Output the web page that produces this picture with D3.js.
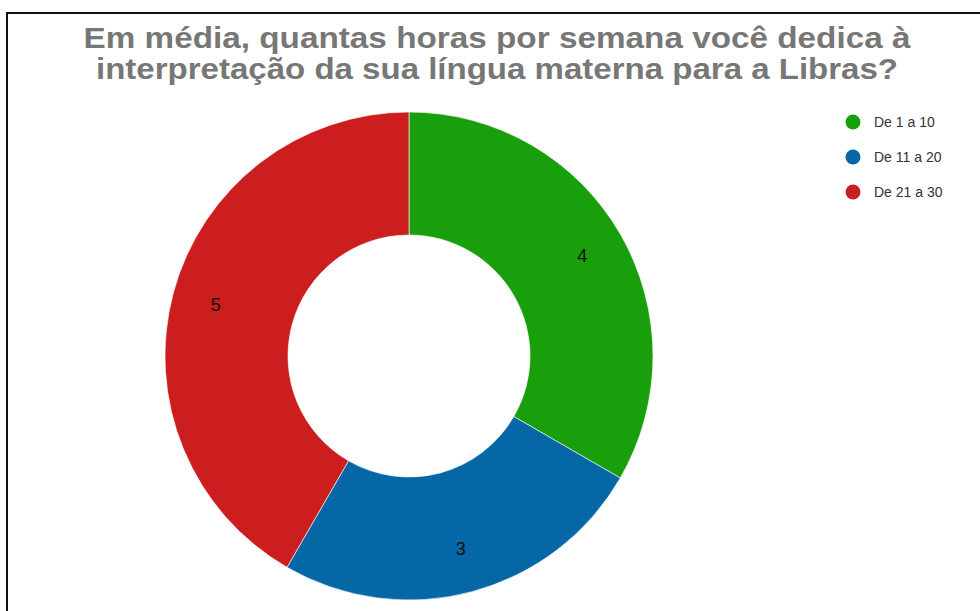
<!DOCTYPE html>
<html>
<head>
<meta charset="utf-8">
<script src="https://cdn.jsdelivr.net/npm/d3@7"></script>
<style>
  html, body { margin: 0; padding: 0; background: #fff; }
  svg { display: block; }
</style>
</head>
<body>
<svg id="chart" width="980" height="611"></svg>
<script>
// Survey answers: weekly hours spent interpreting into Libras
const categories = ["De 1 a 10", "De 11 a 20", "De 21 a 30"];
const counts = [4, 3, 5];
const colors = ["#1a9f0c", "#0567a6", "#cc1e1e"];
const titleLines = [
  "Em média, quantas horas por semana você dedica à",
  "interpretação da sua língua materna para a Libras?"
];
const titleWidths = [827, 802];

const svg = d3.select("#chart");
const W = 980, H = 611;

svg.append("rect").attr("width", W).attr("height", H).attr("fill", "#fff");

// frame (top and left edges)
svg.append("line").attr("x1", 6).attr("x2", W).attr("y1", 13).attr("y2", 13)
  .attr("stroke", "#111").attr("stroke-width", 2);
svg.append("line").attr("x1", 7).attr("x2", 7).attr("y1", 12).attr("y2", H)
  .attr("stroke", "#111").attr("stroke-width", 2);

// title
const title = svg.append("text")
  .attr("font-family", "Liberation Sans, Arial, sans-serif")
  .attr("font-weight", "bold")
  .attr("font-size", 29)
  .attr("fill", "#777")
  .attr("text-anchor", "middle");
title.selectAll("tspan").data(titleLines).join("tspan")
  .attr("x", 497)
  .attr("y", (d, i) => 48 + i * 31)
  .attr("textLength", (d, i) => titleWidths[i])
  .attr("lengthAdjust", "spacingAndGlyphs")
  .text(d => d);

// donut
const cx = 409, cy = 356, rOuter = 244, rInner = 121, rLabel = 200;
const color = d3.scaleOrdinal().domain(categories).range(colors);
const pie = d3.pie().sort(null).value(d => d.value);
const data = categories.map((c, i) => ({ cat: c, value: counts[i] }));
const arcs = pie(data);
const arc = d3.arc().innerRadius(rInner).outerRadius(rOuter);
const labelArc = d3.arc().innerRadius(rLabel).outerRadius(rLabel);

const g = svg.append("g").attr("transform", `translate(${cx},${cy})`);
g.selectAll("path").data(arcs).join("path")
  .attr("d", arc)
  .attr("fill", d => color(d.data.cat))
  .attr("stroke", "#fff")
  .attr("stroke-width", 0.6);

g.selectAll("text.val").data(arcs).join("text")
  .attr("class", "val")
  .attr("transform", d => `translate(${labelArc.centroid(d)})`)
  .attr("text-anchor", "middle")
  .attr("dy", "0.35em")
  .attr("font-family", "Liberation Sans, Arial, sans-serif")
  .attr("font-size", 18)
  .attr("fill", "#111")
  .text(d => d.data.value);

// legend
const legend = svg.append("g").attr("transform", "translate(853,122)");
const items = legend.selectAll("g").data(categories).join("g")
  .attr("transform", (d, i) => `translate(0,${i * 35})`);
items.append("circle").attr("r", 7.5).attr("fill", d => color(d));
items.append("text")
  .attr("x", 21).attr("dy", "0.35em")
  .attr("font-family", "Liberation Sans, Arial, sans-serif")
  .attr("font-size", 14)
  .attr("fill", "#333")
  .text(d => d);
</script>
</body>
</html>
